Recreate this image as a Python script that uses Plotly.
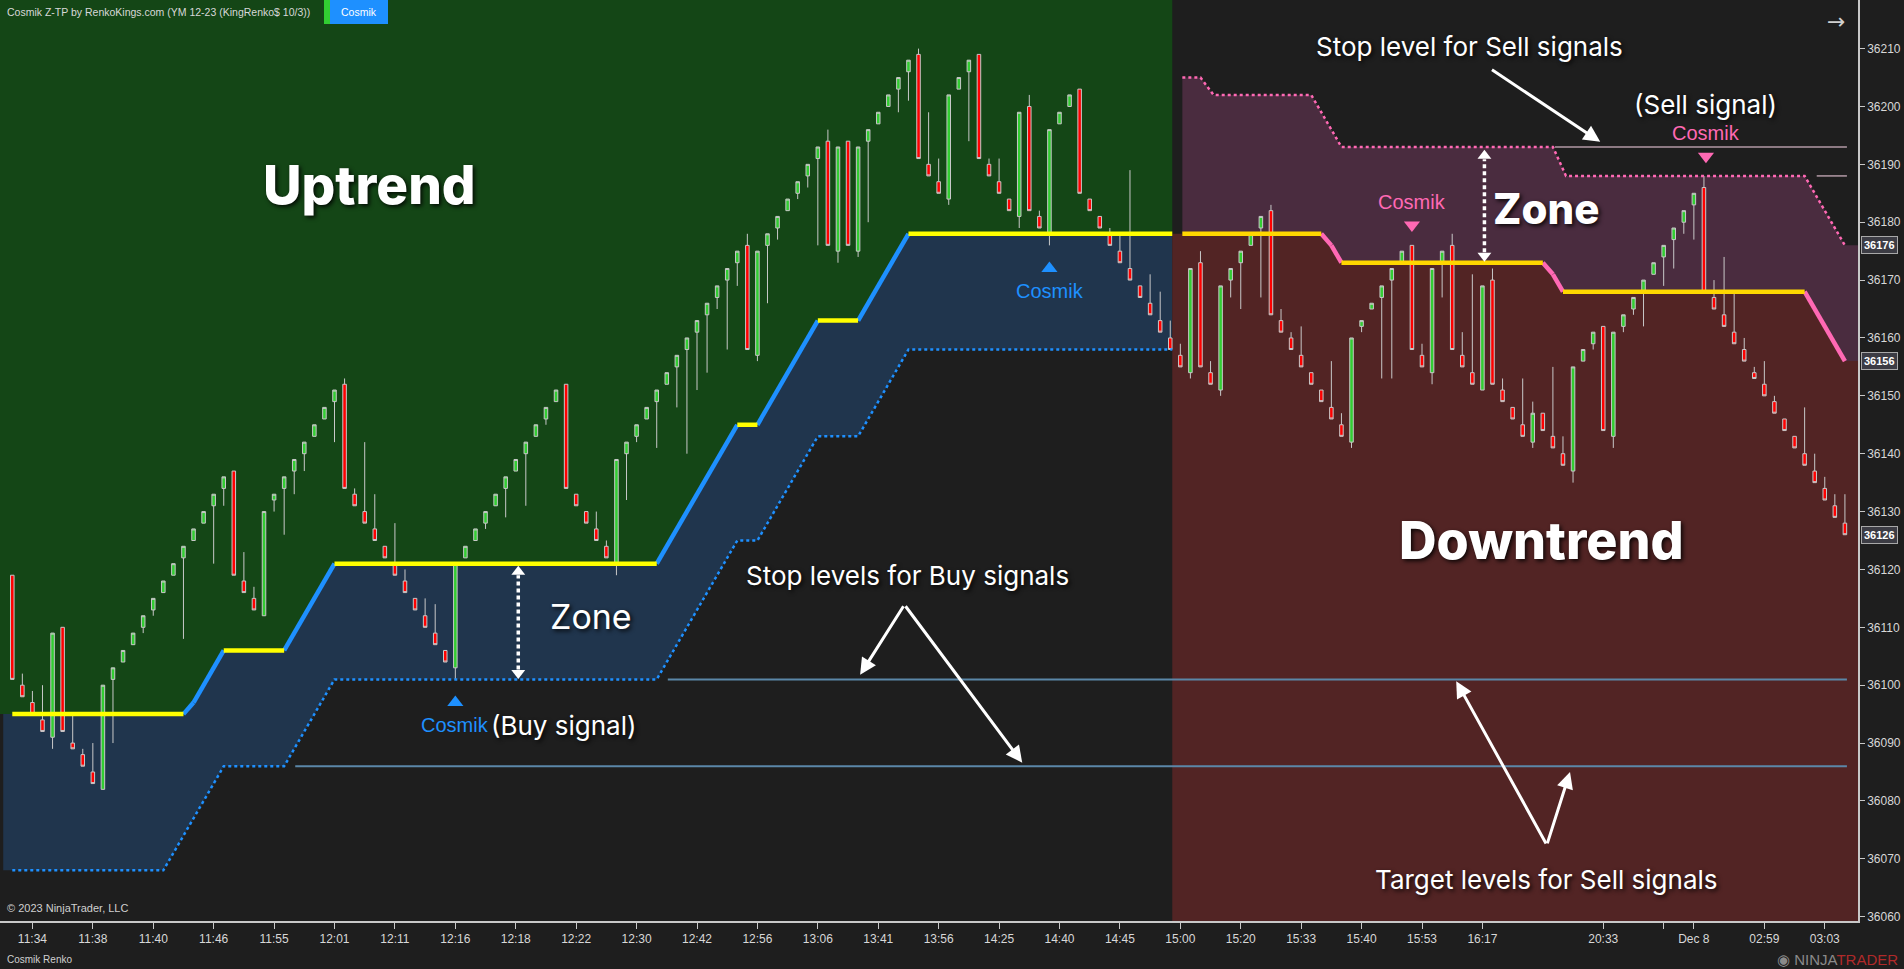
import plotly.graph_objects as go

# ---------------- data (Renko bars, index = bar number) ----------------
bar_open = [36119,36100,36097,36094,36091,36110,36090,36088,36085,36082,36101,36104,36107,36110,36113,36116,36119,36122,36125,36128,
            36131,36134,36137,36118,36115,36112,36132,36134,36137,36140,36143,36146,36149,36152,36133,36130,36127,36124,36121,36118,
            36115,36112,36109,36106,36103,36122,36125,36128,36131,36134,36137,36140,36143,36146,36149,36152,36133,36130,36127,36124,
            36121,36140,36143,36146,36149,36152,36155,36158,36161,36164,36167,36170,36173,36176,36157,36176,36179,36182,36185,36188,
            36191,36194,36175,36194,36175,36194,36197,36200,36203,36206,36209,36190,36187,36184,36203,36206,36209,36190,36187,36184,
            36181,36200,36181,36178,36197,36200,36203,36184,36181,36178,36175,36172,36169,36166,36163,36160,36157,36154,36173,36154,
            36151,36170,36173,36176,36179,36182,36163,36160,36157,36154,36151,36148,36145,36142,36162,36165,36167,36170,36173,36176,
            36157,36154,36173,36176,36157,36154,36151,36170,36151,36148,36145,36142,36147,36143,36140,36137,36156,36159,36162,36143,
            36162,36165,36168,36171,36174,36177,36180,36183,36186,36167,36164,36161,36158,36154,36152,36149,36146,36143,36140,36137,
            36134,36131,36128]
bar_high = [36119,36102,36099,36100,36109,36110,36095,36089,36090,36100,36103,36106,36109,36112,36115,36118,36121,36124,36127,36130,
            36133,36136,36137,36123,36117,36130,36133,36136,36139,36142,36145,36148,36151,36153,36134,36142,36133,36124,36128,36120,
            36115,36115,36114,36106,36121,36124,36127,36130,36133,36136,36139,36142,36145,36148,36151,36152,36133,36130,36130,36125,
            36139,36142,36145,36148,36151,36154,36157,36160,36163,36166,36169,36172,36175,36178,36175,36178,36181,36184,36187,36190,
            36193,36196,36193,36194,36193,36196,36199,36202,36205,36208,36210,36199,36191,36202,36205,36208,36209,36191,36191,36184,
            36199,36202,36182,36196,36199,36202,36203,36184,36181,36179,36178,36189,36169,36171,36168,36163,36159,36172,36175,36156,
            36169,36172,36175,36178,36181,36183,36165,36161,36162,36154,36151,36156,36147,36160,36163,36166,36169,36172,36175,36176,
            36159,36172,36175,36178,36161,36171,36169,36172,36153,36148,36153,36149,36147,36155,36143,36155,36158,36161,36162,36161,
            36164,36167,36170,36173,36176,36179,36182,36185,36188,36170,36174,36168,36160,36155,36156,36150,36146,36143,36148,36140,
            36136,36133,36133]
bar_low = [36101,36098,36095,36092,36089,36092,36089,36086,36083,36082,36090,36104,36107,36109,36112,36116,36119,36108,36125,36128,
           36121,36131,36119,36116,36113,36112,36130,36126,36133,36137,36143,36146,36142,36134,36131,36128,36125,36122,36119,36116,
           36113,36110,36107,36104,36101,36122,36125,36127,36131,36129,36137,36131,36143,36145,36149,36134,36131,36128,36125,36122,
           36119,36132,36142,36146,36141,36152,36148,36140,36151,36154,36165,36158,36169,36158,36156,36166,36177,36182,36184,36186,
           36176,36176,36173,36176,36174,36180,36197,36200,36199,36201,36191,36188,36185,36183,36203,36194,36191,36188,36185,36182,
           36179,36182,36179,36176,36197,36200,36185,36182,36179,36176,36173,36170,36167,36164,36161,36158,36155,36153,36155,36152,
           36150,36167,36165,36176,36167,36164,36161,36158,36155,36152,36149,36146,36143,36141,36161,36165,36153,36153,36173,36158,
           36155,36152,36167,36158,36155,36152,36151,36152,36149,36146,36143,36141,36144,36141,36138,36135,36156,36158,36144,36141,
           36161,36164,36162,36171,36169,36172,36178,36177,36168,36165,36162,36159,36156,36153,36150,36147,36144,36141,36138,36135,
           36132,36129,36126]
bar_close = [36101,36098,36095,36092,36109,36092,36089,36086,36083,36100,36103,36106,36109,36112,36115,36118,36121,36124,36127,36130,
             36133,36136,36119,36116,36113,36130,36133,36136,36139,36142,36145,36148,36151,36134,36131,36128,36125,36122,36119,36116,
             36113,36110,36107,36104,36121,36124,36127,36130,36133,36136,36139,36142,36145,36148,36151,36134,36131,36128,36125,36122,
             36139,36142,36145,36148,36151,36154,36157,36160,36163,36166,36169,36172,36175,36158,36175,36178,36181,36184,36187,36190,
             36193,36176,36193,36176,36193,36196,36199,36202,36205,36208,36191,36188,36185,36202,36205,36208,36191,36188,36185,36182,
             36199,36182,36179,36196,36199,36202,36185,36182,36179,36176,36173,36170,36167,36164,36161,36158,36155,36172,36155,36152,
             36169,36172,36175,36178,36181,36164,36161,36158,36155,36152,36149,36146,36143,36160,36163,36166,36169,36172,36175,36158,
             36155,36172,36175,36158,36155,36152,36169,36152,36149,36146,36143,36147,36144,36141,36138,36155,36158,36161,36144,36161,
             36164,36167,36170,36173,36176,36179,36182,36185,36168,36165,36162,36159,36156,36153,36150,36147,36144,36141,36138,36135,
             36132,36129,36126]
bar_idx = list(range(len(bar_open)))

tick_idx = [2, 8, 14, 20, 26, 32, 38, 44, 50, 56, 62, 68, 74, 80, 86, 92, 98, 104, 110, 116,
            122, 128, 134, 140, 146, 158, 164, 167, 174, 180]
tick_text = ["11:34", "11:38", "11:40", "11:46", "11:55", "12:01", "12:11", "12:16", "12:18", "12:22",
             "12:30", "12:42", "12:56", "13:06", "13:41", "13:56", "14:25", "14:40", "14:45", "15:00",
             "15:20", "15:33", "15:40", "15:53", "16:17", "20:33", "", "Dec 8", "02:59", "03:03"]
price_ticks = list(range(36060, 36211, 10))

# Z-TP zone lines (bar index, price)
up_line_x = [0, 17, 18, 21, 27, 32, 64, 72, 74, 80, 84, 89, 115.2]
up_line_y = [36095, 36095, 36097, 36106, 36106, 36121, 36121, 36145, 36145, 36163, 36163, 36178, 36178]
up_stop_x = [0, 15, 21, 27, 32, 64, 72, 74, 80, 84, 89, 115.2]
up_stop_y = [36068, 36068, 36086, 36086, 36101, 36101, 36125, 36125, 36143, 36143, 36158, 36158]
dn_line_x = [116.2, 130, 131, 132, 152, 153, 154, 178, 182]
dn_line_y = [36178, 36178, 36176, 36173, 36173, 36171, 36168, 36168, 36156]
dn_stop_x = [116.2, 118, 119.3, 129, 132, 153, 154.3, 178, 182]
dn_stop_y = [36205, 36205, 36202, 36202, 36193, 36193, 36188, 36188, 36176]

# horizontal stop / target levels: (start bar, end bar, price)
buy_levels = [(65.1, 182.2, 36101), (28.1, 182.2, 36086)]
sell_levels = [(153.2, 182.2, 36193), (179.2, 182.2, 36188)]

# last-value flags on the price axis
flag_prices = [36176, 36156, 36126]

X_MIN, X_MAX = -1.22, 183.3
Y_MIN, Y_MAX = 36059.25, 36218.4
SPLIT = 115.2

BG = "#1e1e1e"
GREEN_BG = "#144616"
NAVY = "#20354d"
BROWN = "#522424"
PURPLE = "#4a2c3f"
YELLOW = "#ffff00"
GOLD = "#ffd700"
BLUE = "#1e90ff"
PINK = "#ff69b4"

fig = go.Figure()

def poly(xs, ys, color):
    path = "M " + " L ".join("%s,%s" % (a, b) for a, b in zip(xs, ys)) + " Z"
    fig.add_shape(type="path", path=path, xref="x", yref="y", layer="below",
                  fillcolor=color, line=dict(width=0))

# backgrounds (drawn below the traces)
poly([X_MIN] + up_line_x + [SPLIT, X_MIN], [up_line_y[0]] + up_line_y + [Y_MAX, Y_MAX], GREEN_BG)
poly([-0.9] + up_line_x + up_stop_x[::-1] + [-0.9],
     [up_line_y[0]] + up_line_y + up_stop_y[::-1] + [up_stop_y[0]], NAVY)
poly([SPLIT] + dn_line_x + [X_MAX, X_MAX, SPLIT],
     [dn_line_y[0]] + dn_line_y + [dn_line_y[-1], Y_MIN, Y_MIN], BROWN)
poly(dn_line_x + [X_MAX, X_MAX] + dn_stop_x[::-1],
     dn_line_y + [dn_line_y[-1], dn_stop_y[-1]] + dn_stop_y[::-1], PURPLE)

# candles
fig.add_trace(go.Candlestick(
    x=bar_idx, open=bar_open, high=bar_high, low=bar_low, close=bar_close,
    increasing=dict(fillcolor="#32cd32", line=dict(color="#c8c8c8", width=1)),
    decreasing=dict(fillcolor="#ff0000", line=dict(color="#c8c8c8", width=1)),
    whiskerwidth=0, showlegend=False))

# horizontal levels
for x0, x1, p in buy_levels:
    fig.add_trace(go.Scatter(x=[x0, x1], y=[p, p], mode="lines", line=dict(color="#5b87a8", width=2),
                             hoverinfo="skip", showlegend=False))
for x0, x1, p in sell_levels:
    fig.add_trace(go.Scatter(x=[x0, x1], y=[p, p], mode="lines", line=dict(color="#b39aa6", width=1.5),
                             hoverinfo="skip", showlegend=False))

# dotted stop lines
fig.add_trace(go.Scatter(x=up_stop_x, y=up_stop_y, mode="lines", line=dict(color=BLUE, width=2.5, dash="3px,3px"),
                         hoverinfo="skip", showlegend=False))
fig.add_trace(go.Scatter(x=dn_stop_x, y=dn_stop_y, mode="lines", line=dict(color=PINK, width=2.5, dash="3px,3px"),
                         hoverinfo="skip", showlegend=False))

def seg_lines(xs, ys, flat_color, slope_color):
    fx, fy, sx, sy = [], [], [], []
    for k in range(len(xs) - 1):
        if ys[k] == ys[k + 1]:
            fx += [xs[k], xs[k + 1], None]; fy += [ys[k], ys[k + 1], None]
        else:
            sx += [xs[k], xs[k + 1], None]; sy += [ys[k], ys[k + 1], None]
    fig.add_trace(go.Scatter(x=sx, y=sy, mode="lines", line=dict(color=slope_color, width=4.5),
                             hoverinfo="skip", showlegend=False))
    fig.add_trace(go.Scatter(x=fx, y=fy, mode="lines", line=dict(color=flat_color, width=4.5),
                             hoverinfo="skip", showlegend=False))

seg_lines(up_line_x, up_line_y, YELLOW, BLUE)
seg_lines(dn_line_x, dn_line_y, GOLD, PINK)

# signal markers
buy_sig_x = [44, 103]
buy_sig_y = [36097, 36172]
sell_sig_x = [139, 168.2]
sell_sig_y = [36179.5, 36191.4]
fig.add_trace(go.Scatter(x=buy_sig_x, y=buy_sig_y, mode="markers",
                         marker=dict(symbol="triangle-up", size=14, color=BLUE), hoverinfo="skip", showlegend=False))
fig.add_trace(go.Scatter(x=sell_sig_x, y=sell_sig_y, mode="markers",
                         marker=dict(symbol="triangle-down", size=14, color=PINK), hoverinfo="skip", showlegend=False))

# dotted double arrows (Zone)
zone_arrows = [(50.25, 36101.2, 36120.5), (146.2, 36173.3, 36192.4)]
for zx, lo, hi in zone_arrows:
    fig.add_shape(type="line", x0=zx, x1=zx, y0=lo + 1.5, y1=hi - 1.5, xref="x", yref="y",
                  line=dict(color="white", width=3.5, dash="4px,3px"))
    fig.add_trace(go.Scatter(x=[zx, zx], y=[hi - 0.9, lo + 0.9], mode="markers",
                             marker=dict(symbol=["triangle-up", "triangle-down"], size=12, color="white"),
                             hoverinfo="skip", showlegend=False))

ann = []
SHADOW = "2px 2px 4px rgba(0,0,0,0.85)"

def txt(x, y, s, size, color="white", bold=False, family="Inter, Lato, sans-serif", shadow=True, **kw):
    f = dict(size=size, color=color, family=family)
    if bold:
        f["weight"] = 800
    if shadow:
        f["shadow"] = SHADOW
    d = dict(x=x, y=y, xref="x", yref="y", text=s, showarrow=False, font=f)
    d.update(kw)
    ann.append(d)

txt(35.5, 36186.5, "Uptrend", 53, bold=True)
txt(151.9, 36125.0, "Downtrend", 52, bold=True)
txt(152.3, 36182.3, "Zone", 42, bold=True)
txt(57.5, 36111.8, "Zone", 34)
txt(88.9, 36118.9, "Stop levels for Buy signals", 26)
txt(144.7, 36210.4, "Stop level for Sell signals", 26)
txt(168.2, 36200.4, "(Sell signal)", 26)
txt(152.4, 36066.5, "Target levels for Sell signals", 26)
txt(54.8, 36093.1, "(Buy signal)", 26)
txt(44, 36093.1, "Cosmik", 20, color=BLUE, family="Arial, Liberation Sans, sans-serif", shadow=False)
txt(103.1, 36168.2, "Cosmik", 20, color=BLUE, family="Arial, Liberation Sans, sans-serif", shadow=False)
txt(139, 36183.5, "Cosmik", 20, color=PINK, family="Arial, Liberation Sans, sans-serif", shadow=False)
txt(168.2, 36195.4, "Cosmik", 20, color=PINK, family="Arial, Liberation Sans, sans-serif", shadow=False)

# white pointer arrows: (tail_x, tail_y, head_x, head_y)
pointers = [(88.6, 36113.9, 84.2, 36101.8), (88.6, 36113.9, 100.3, 36086.6),
            (152.4, 36072.4, 143.4, 36100.7), (152.4, 36072.4, 154.7, 36085.0),
            (146.8, 36206.5, 157.7, 36193.9)]
for tx, ty, hx, hy in pointers:
    ann.append(dict(x=hx, y=hy, ax=tx, ay=ty, xref="x", yref="y", axref="x", ayref="y", text="",
                    showarrow=True, arrowhead=2, arrowsize=1.1, arrowwidth=3, arrowcolor="white", standoff=0))

# price flags on the axis
for p in flag_prices:
    ann.append(dict(x=1.0 + 3 / 1858, y=p, xref="paper", yref="y", xanchor="left", yanchor="middle",
                    text="<b>%d</b>" % p, showarrow=False, bgcolor="#3c3c44", bordercolor="#a8a8a8",
                    borderwidth=1, borderpad=2,
                    font=dict(size=11, color="white", family="Arial, Liberation Sans, sans-serif")))

# header / footer texts
ann.append(dict(x=5 / 1858, y=1 - 12 / 921, xref="paper", yref="paper", xanchor="left", yanchor="middle",
                text="Cosmik Z-TP by RenkoKings.com (YM 12-23 (KingRenko$ 10/3))", showarrow=False,
                font=dict(size=10.5, color="#d8d8d8", family="Arial, Liberation Sans, sans-serif")))
ann.append(dict(x=359 / 1858, y=1 - 12 / 921, xref="paper", yref="paper", xanchor="center", yanchor="middle",
                text="Cosmik", showarrow=False,
                font=dict(size=10.5, color="white", family="Arial, Liberation Sans, sans-serif")))
ann.append(dict(x=1836 / 1858, y=1 - 21 / 921, xref="paper", yref="paper", xanchor="center", yanchor="middle",
                text="→", showarrow=False, font=dict(size=22, color="#d0d0d0", family="DejaVu Sans")))
ann.append(dict(x=5 / 1858, y=1 - 908 / 921, xref="paper", yref="paper", xanchor="left", yanchor="middle",
                text="© 2023 NinjaTrader, LLC", showarrow=False,
                font=dict(size=11, color="#d0d0d0", family="Arial, Liberation Sans, sans-serif")))
ann.append(dict(x=5 / 1858, y=-(959 - 921) / 921, xref="paper", yref="paper", xanchor="left", yanchor="middle",
                text="Cosmik Renko", showarrow=False,
                font=dict(size=10, color="#d0d0d0", family="Liberation Sans Narrow, Arial Narrow, sans-serif")))
ann.append(dict(x=1900 / 1858, y=-(959 - 921) / 921, xref="paper", yref="paper", xanchor="right", yanchor="middle",
                text="<span style='color:#8a8a8a'>◉ NINJA</span><span style='color:#b02a2a'>TRADER</span>",
                showarrow=False, font=dict(size=15, family="Liberation Sans, Arial, sans-serif")))

fig.add_shape(type="rect", xref="paper", yref="paper", x0=324 / 1858, x1=330 / 1858, y0=1 - 24 / 921, y1=1,
              fillcolor="#32cd32", line=dict(width=0))
fig.add_shape(type="rect", xref="paper", yref="paper", x0=330 / 1858, x1=388 / 1858, y0=1 - 24 / 921, y1=1,
              fillcolor=BLUE, line=dict(width=0))

fig.update_layout(
    width=1904, height=969,
    margin=dict(l=0, r=46, t=0, b=48, autoexpand=False),
    paper_bgcolor=BG, plot_bgcolor=BG,
    showlegend=False, hovermode=False,
    boxgap=0.5,
    annotations=ann,
    xaxis=dict(range=[X_MIN, X_MAX], showgrid=False, zeroline=False, rangeslider=dict(visible=False),
               automargin=False,
               tickmode="array", tickvals=tick_idx, ticktext=tick_text, ticks="outside", ticklen=6,
               tickcolor="#c8c8c8", showline=True, linecolor="#c8c8c8", linewidth=1.5,
               tickfont=dict(size=12, color="#d8d8d8", family="Liberation Sans Narrow, Arial Narrow, sans-serif")),
    yaxis=dict(range=[Y_MIN, Y_MAX], side="right", showgrid=False, zeroline=False, automargin=False,
               tickmode="array", tickvals=price_ticks, ticktext=[str(p) for p in price_ticks],
               ticks="outside", ticklen=5,
               tickcolor="#c8c8c8", showline=True, linecolor="#c8c8c8", linewidth=1.5,
               tickfont=dict(size=12, color="#d8d8d8", family="Arial, Liberation Sans, sans-serif")),
)

fig.write_html("out.html", config={"displayModeBar": False},
               post_script="document.body.style.margin='0px';document.body.style.overflow='hidden';")
